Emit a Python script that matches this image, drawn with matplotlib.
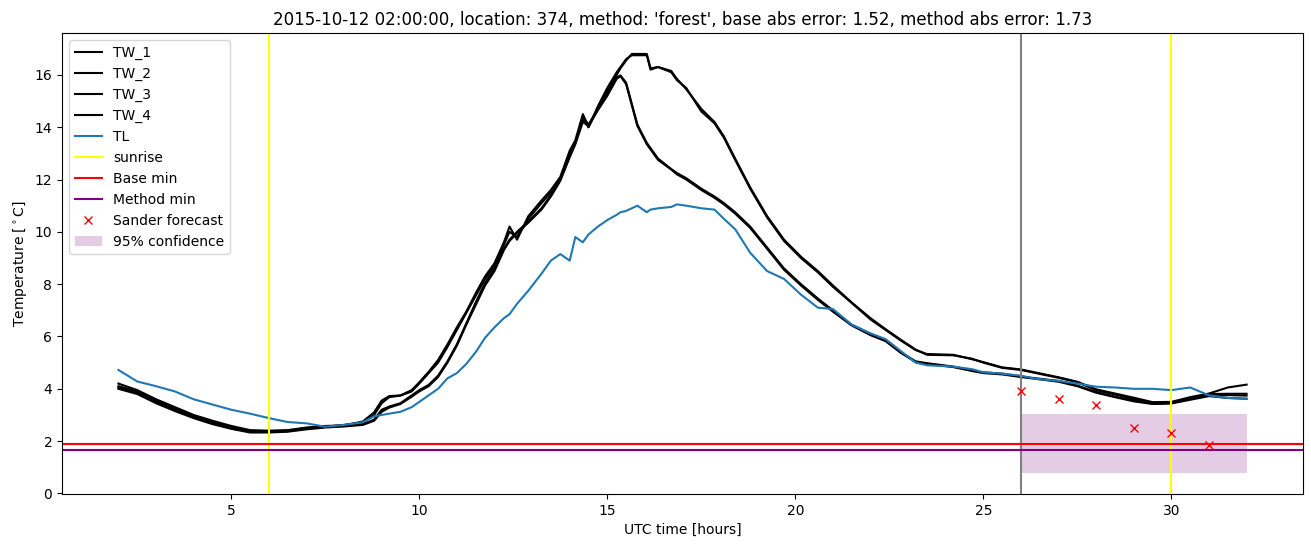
import numpy as np
import matplotlib
matplotlib.use('Agg')
import matplotlib.pyplot as plt

# tijdstippen (uren UTC vanaf middernacht dag 1)
hours = [2, 2.5, 3, 3.5, 4, 4.5, 5, 5.5, 6, 6.5, 7, 7.5, 8, 8.5, 8.8, 9, 9.2, 9.5, 9.8, 10,
         10.25, 10.5, 10.75, 11, 11.25, 11.5, 11.75, 12, 12.25, 12.4, 12.6, 12.9, 13.25, 13.5,
         13.75, 14, 14.15, 14.35, 14.5, 14.75, 15, 15.25, 15.35, 15.5, 15.65, 15.8, 16.05,
         16.15, 16.35, 16.7, 16.85, 17.1, 17.5, 17.85, 18.1, 18.4, 18.8, 19.25, 19.7, 20.15,
         20.6, 21, 21.5, 22, 22.4, 22.8, 23.2, 23.5, 24.2, 24.7, 25, 25.5, 26, 26.4, 27, 27.5,
         28, 28.5, 29, 29.5, 30, 30.5, 31, 31.5, 32]

tw_1 = [4.2, 3.95, 3.6, 3.3, 3.0, 2.78, 2.58, 2.42, 2.4, 2.42, 2.52, 2.58, 2.6, 2.75, 3.1, 3.55,
        3.72, 3.75, 3.95, 4.25, 4.65, 5.1, 5.7, 6.35, 6.95, 7.65, 8.3, 8.8, 9.6, 10.2, 9.7, 10.6,
        11.2, 11.6, 12.1, 13.1, 13.5, 14.5, 14.0, 14.8, 15.5, 16.1, 16.3, 16.6, 16.75, 16.75,
        16.75, 16.2, 16.3, 16.1, 15.8, 15.5, 14.6, 14.15, 13.6, 12.75, 11.65, 10.55, 9.65, 9.0,
        8.45, 7.9, 7.28, 6.65, 6.25, 5.85, 5.48, 5.33, 5.3, 5.13, 5.02, 4.82, 4.74, 4.62, 4.44,
        4.27, 3.98, 3.82, 3.66, 3.49, 3.5, 3.68, 3.82, 4.05, 4.16]

tw_2 = [4.1, 3.9, 3.55, 3.25, 2.95, 2.72, 2.52, 2.38, 2.38, 2.4, 2.5, 2.55, 2.62, 2.72, 3.0, 3.45,
        3.68, 3.74, 3.9, 4.2, 4.6, 5.0, 5.6, 6.25, 6.9, 7.55, 8.2, 8.7, 9.5, 10.0, 9.8, 10.5,
        11.1, 11.5, 12.0, 13.0, 13.4, 14.4, 14.1, 14.7, 15.4, 16.0, 16.25, 16.55, 16.8, 16.8,
        16.8, 16.25, 16.3, 16.15, 15.85, 15.45, 14.7, 14.2, 13.65, 12.8, 11.7, 10.6, 9.7,
        9.05, 8.5, 7.95, 7.3, 6.7, 6.28, 5.88, 5.5, 5.3, 5.28, 5.15, 5.0, 4.8, 4.72, 4.6, 4.42,
        4.25, 3.95, 3.78, 3.6, 3.45, 3.46, 3.62, 3.76, 3.76, 3.74]

tw_3 = [4.05, 3.85, 3.5, 3.2, 2.92, 2.7, 2.5, 2.35, 2.35, 2.38, 2.48, 2.55, 2.58, 2.65, 2.82, 3.2,
        3.32, 3.45, 3.75, 3.95, 4.15, 4.5, 5.05, 5.7, 6.5, 7.3, 8.05, 8.6, 9.35, 9.7, 10.0, 10.4,
        10.9, 11.4, 12.0, 12.9, 13.4, 14.3, 14.0, 14.7, 15.3, 15.9, 15.98, 15.7, 14.9, 14.1,
        13.4, 13.2, 12.8, 12.4, 12.25, 12.05, 11.65, 11.35, 11.1, 10.75, 10.2, 9.4, 8.6, 8.0,
        7.45, 7.0, 6.45, 6.1, 5.85, 5.4, 5.05, 4.98, 4.85, 4.7, 4.63, 4.58, 4.47, 4.4, 4.3,
        4.12, 3.88, 3.7, 3.55, 3.43, 3.45, 3.62, 3.8, 3.81, 3.81]

tw_4 = [4.0, 3.8, 3.45, 3.15, 2.88, 2.65, 2.47, 2.33, 2.33, 2.36, 2.45, 2.52, 2.56, 2.62, 2.78,
        3.12, 3.28, 3.42, 3.7, 3.9, 4.1, 4.45, 5.0, 5.65, 6.45, 7.2, 7.95, 8.5, 9.3, 9.65, 9.95,
        10.35, 10.85, 11.35, 11.95, 12.85, 13.35, 14.2, 14.05, 14.65, 15.2, 15.85, 15.95, 15.65,
        14.85, 14.05, 13.35, 13.15, 12.75, 12.38, 12.2, 12.0, 11.6, 11.3, 11.05, 10.7, 10.15,
        9.35, 8.55, 7.95, 7.4, 6.95, 6.42, 6.05, 5.82, 5.38, 5.02, 4.95, 4.83, 4.68, 4.6, 4.55,
        4.45, 4.38, 4.27, 4.1, 3.85, 3.68, 3.52, 3.42, 3.44, 3.58, 3.72, 3.65, 3.62]

tl = [4.72, 4.28, 4.1, 3.9, 3.6, 3.4, 3.2, 3.05, 2.88, 2.73, 2.68, 2.55, 2.62, 2.72, 2.95, 3.0,
      3.05, 3.12, 3.3, 3.5, 3.75, 4.0, 4.4, 4.6, 4.95, 5.4, 5.95, 6.35, 6.7, 6.85, 7.25, 7.75,
      8.4, 8.9, 9.15, 8.9, 9.8, 9.6, 9.9, 10.2, 10.45, 10.65, 10.75, 10.8, 10.9, 11.0, 10.75,
      10.85, 10.9, 10.95, 11.05, 11.0, 10.9, 10.85, 10.5, 10.1, 9.2, 8.5, 8.2, 7.6, 7.1, 7.05,
      6.45, 6.12, 5.9, 5.45, 5.0, 4.9, 4.85, 4.75, 4.63, 4.58, 4.5, 4.38, 4.3, 4.2, 4.08, 4.05,
      4.0, 4.0, 3.95, 4.05, 3.75, 3.65, 3.62]

sunrise_hours = [6, 30]
forecast_time = 26
base_min = 1.88
method_min = 1.66

sander_hours = [26, 27, 28, 29, 30, 31]
sander_temp = [3.9, 3.62, 3.39, 2.51, 2.32, 1.87]

conf_hours = [26, 32]
conf_low = [0.78, 0.78]
conf_high = [3.02, 3.02]

fig = plt.figure(figsize=(13.11, 5.47), dpi=100)
ax = fig.add_axes([0.0473, 0.0969, 0.9466, 0.8428])

ax.plot(hours, tw_1, color='k', label='TW_1')
ax.plot(hours, tw_2, color='k', label='TW_2')
ax.plot(hours, tw_3, color='k', label='TW_3')
ax.plot(hours, tw_4, color='k', label='TW_4')
ax.plot(hours, tl, color='tab:blue', label='TL')

ax.axvline(sunrise_hours[0], color='yellow', label='sunrise')
ax.axvline(sunrise_hours[1], color='yellow')
ax.axvline(forecast_time, color='grey')
ax.axhline(base_min, color='red', label='Base min')
ax.axhline(method_min, color='purple', label='Method min')

ax.plot(sander_hours, sander_temp, 'rx', label='Sander forecast')
ax.fill_between(conf_hours, conf_low, conf_high, color='purple', alpha=0.2,
                linewidth=0, label='95% confidence')

ax.set_title("2015-10-12 02:00:00, location: 374, method: 'forest', "
             "base abs error: 1.52, method abs error: 1.73")
ax.set_xlabel('UTC time [hours]')
ax.set_ylabel(r'Temperature [$^\circ$C]')
ax.legend(loc='upper left')

fig.savefig('out.png', dpi=100)
